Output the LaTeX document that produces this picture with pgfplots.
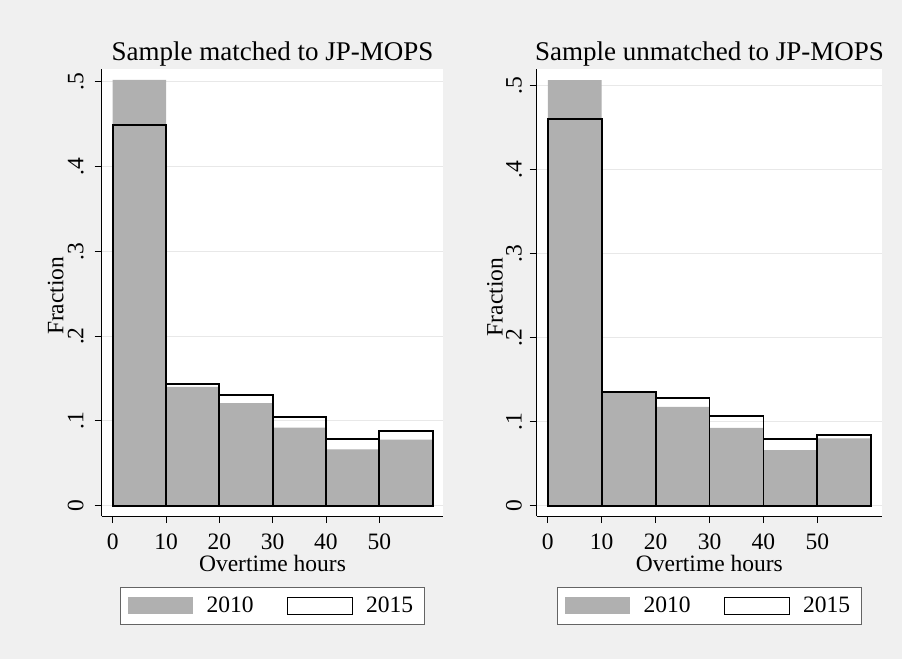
\documentclass[border=0pt]{standalone}
\usepackage{fontspec}
\setmainfont{Liberation Serif}
\usepackage{pgfplots}
\pgfplotsset{compat=1.18}
\definecolor{bg}{RGB}{240,240,240}
\definecolor{barc}{RGB}{176,176,176}
\definecolor{gridc}{RGB}{232,232,232}
\definecolor{legframe}{RGB}{100,100,100}

\pgfplotstableread{
x  a2010   a2015
0  0.502   0.449
10 0.140   0.1435
20 0.121   0.131
30 0.092   0.105
40 0.0665  0.0787
50 0.078   0.0877
60 0.078   0.0877
}\leftdata
\pgfplotstableread{
x  a2010   a2015
0  0.506   0.460
10 0.1353  0.1356
20 0.1177  0.1277
30 0.0927  0.107
40 0.0662  0.0793
50 0.0800  0.0840
60 0.0800  0.0840
}\rightdata

\pgfplotsset{
  panel/.style={
    scale only axis,
    height=446.7pt,
    anchor=south west,
    axis background/.style={fill=white},
    axis x line*=bottom, axis y line*=left,
    axis line style={-, black, line width=0.8pt},
    tick align=outside, major tick length=7pt,
    tick style={black, line width=0.8pt},
    xtick={0,10,20,30,40,50},
    ytick={0,0.1,0.2,0.3,0.4,0.5},
    yticklabels={0,.1,.2,.3,.4,.5},
    ymajorgrids, grid style={gridc, line width=0.8pt},
    /pgf/number format/assume math mode=true,
    ticklabel style={font=\fontsize{23.5}{28}\selectfont},
    xticklabel style={anchor=base, yshift=-26.3pt},
    label style={font=\fontsize{23.5}{28}\selectfont},
    xlabel={Overtime hours},
    xlabel style={at={(axis description cs:0.5,0)}, anchor=base, yshift=-55.7pt},
    ylabel={Fraction},
    title style={font=\fontsize{27}{32}\selectfont, at={(axis description cs:0.5,1)}, anchor=base, yshift=2.6pt},
    legend columns=2,
    legend style={at={(axis description cs:0.5,-0.2013)}, anchor=center,
      draw=legframe, fill=white, line width=0.8pt,
      font=\fontsize{23.5}{28}\selectfont,
      inner xsep=8pt, inner ysep=6.85pt,
      nodes={inner sep=3.5pt},
      /tikz/every odd column/.append style={column sep=9.9pt},
      /tikz/every even column/.append style={column sep=29.7pt}},
  },
  b2010/.style={ybar interval, fill=barc, draw=none,
    legend image code/.code={\fill[barc] (0pt,-8.5pt) rectangle (65pt,8.5pt);}},
  b2015/.style={ybar interval, fill=none, draw=black, line width=1.8pt,
    legend image code/.code={\draw[black, line width=0.8pt, fill=white] (0pt,-8.5pt) rectangle (65pt,8.5pt);}},
}

\begin{document}
\begin{tikzpicture}
\fill[bg] (0pt,0pt) rectangle (902pt,659pt);
\begin{axis}[panel, at={(101.7pt,143pt)}, width=341.6pt,
  xmin=-2.06, xmax=62.0, ymin=-0.01215, ymax=0.5146,
  title={Sample matched to JP-MOPS},
  yticklabel style={rotate=90, anchor=base, yshift=11.4pt},
  ylabel style={at={(axis description cs:-0.1124,0.493)}, anchor=base}]
\addplot[b2010] table[x=x, y=a2010] {\leftdata};
\addlegendentry{2010}
\addplot[b2015] table[x=x, y=a2015] {\leftdata};
\addlegendentry{2015}
\end{axis}
\begin{axis}[panel, at={(536.5pt,143pt)}, width=345.8pt,
  xmin=-2.09, xmax=62.04, ymin=-0.0122, ymax=0.519,
  title={Sample unmatched to JP-MOPS},
  yticklabel style={rotate=90, anchor=base, yshift=8pt},
  ylabel style={at={(axis description cs:-0.0982,0.49)}, anchor=base}]
\addplot[b2010] table[x=x, y=a2010] {\rightdata};
\addlegendentry{2010}
\addplot[b2015] table[x=x, y=a2015] {\rightdata};
\addlegendentry{2015}
\end{axis}
\end{tikzpicture}
\end{document}
